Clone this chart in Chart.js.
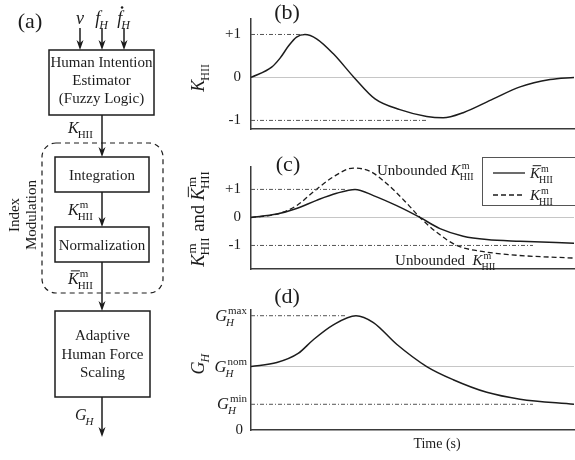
<!DOCTYPE html>
<html>
<head>
<meta charset="utf-8">
<script src="https://cdn.jsdelivr.net/npm/chart.js@4.4.1/dist/chart.umd.min.js"></script>
<style>
  html, body { margin: 0; padding: 0; background: #fff; }
  #wrap { position: relative; width: 575px; height: 460px; overflow: hidden; background: #fff; }
  canvas { position: absolute; }
</style>
</head>
<body>
<div id="wrap">
  <canvas id="diagram" width="180" height="460" style="left:0;top:0"></canvas>
  <canvas id="chartB" width="395" height="148" style="left:180px;top:0"></canvas>
  <canvas id="chartC" width="395" height="140" style="left:180px;top:148px"></canvas>
  <canvas id="chartD" width="395" height="176" style="left:180px;top:284px"></canvas>
</div>
<script>
// --- Data (time in arbitrary units, 0 = start, 100 = end) ---
const timeB = [0, 6.4, 9, 11.6, 14.1, 16.7, 20.3, 25.5, 31.9, 38.4, 46.1, 54.4, 59.5, 65.7, 75, 83.3, 92.6, 100];
const kHII  = [0, 0.24, 0.45, 0.73, 0.94, 1.0, 0.9, 0.55, 0, -0.5, -0.75, -0.91, -0.94, -0.82, -0.5, -0.22, -0.05, 0];

const timeNorm = [0, 8, 14.1, 20.3, 26.5, 32.2, 37.9, 45.1, 52.3, 58.5, 65.7, 73, 83.3, 100];
const kNorm    = [0, 0.12, 0.32, 0.61, 0.86, 1.0, 0.78, 0.42, 0, -0.4, -0.67, -0.79, -0.85, -0.92];

const timeUnb = [0, 8, 14.1, 19.3, 25.5, 31.7, 36.8, 42, 48.2, 52.3, 57.5, 63.7, 72, 82.3, 100];
const kUnb    = [0, 0.12, 0.42, 0.91, 1.45, 1.76, 1.65, 1.21, 0.51, 0, -0.53, -1.0, -1.22, -1.35, -1.45];

const timeG = [0, 8, 14.6, 19.3, 25.5, 32.5, 37.9, 45.1, 54.4, 62.6, 73, 83.3, 100];
const gH    = [0.555, 0.59, 0.67, 0.79, 0.92, 1.0, 0.94, 0.75, 0.555, 0.44, 0.33, 0.27, 0.225];

// tick values / labels
const kTicks = [-1, 0, 1];
const kTickLabels = ['-1', '0', '+1'];
const gTicks = [0, 0.225, 0.555, 1.0];        // 0, G_min, G_nom, G_max
const gTickSups = [null, 'min', 'nom', 'max'];

// end time of the dash-dot limit lines [upper, lower]
const limitEndB = [16.7, 54.8];
const limitEndC = [29.7, 87.3];
const limitEndD = [29.7, 87.3];

// --- Styling ---
const SERIF = '"Liberation Serif", "Times New Roman", "DejaVu Serif", serif';
const INK = '#1c1c1c';
const AXIS = '#3a3a3a';
const LIMIT = '#555';
const Y_AXIS_W = 71;

function fnt(size, italic) { return (italic ? 'italic ' : '') + size + 'px ' + SERIF; }

// a run is a list of plain strings and symbols {b, i, sup, sub, supI, subI, bar, dot}
function itemWidth(ctx, it, size) {
  if (typeof it === 'string') { ctx.font = fnt(size, false); return ctx.measureText(it).width; }
  ctx.font = fnt(size, it.i);
  const wb = ctx.measureText(it.b).width;
  const ss = Math.round(size * 0.68);
  let w = 0;
  if (it.sup) { ctx.font = fnt(ss, it.supI); w = Math.max(w, ctx.measureText(it.sup).width + 1); }
  if (it.sub) { ctx.font = fnt(ss, it.subI); w = Math.max(w, ctx.measureText(it.sub).width); }
  return wb + w;
}

function drawItem(ctx, it, x, y, size) {
  if (typeof it === 'string') {
    ctx.font = fnt(size, false);
    ctx.fillText(it, x, y);
    return ctx.measureText(it).width;
  }
  ctx.font = fnt(size, it.i);
  ctx.fillText(it.b, x, y);
  const wb = ctx.measureText(it.b).width;
  const ss = Math.round(size * 0.68);
  if (it.sup) { ctx.font = fnt(ss, it.supI); ctx.fillText(it.sup, x + wb + 1, y - size * 0.42); }
  if (it.sub) { ctx.font = fnt(ss, it.subI); ctx.fillText(it.sub, x + wb - (it.i ? 1 : 0), y + size * 0.3); }
  if (it.bar) {
    ctx.beginPath();
    ctx.lineWidth = 1;
    ctx.moveTo(x + size * 0.18, y - size * 0.82);
    ctx.lineTo(x + wb + size * 0.08, y - size * 0.82);
    ctx.stroke();
  }
  if (it.dot) {
    ctx.beginPath();
    ctx.arc(x + wb * 0.55 + size * 0.12, y - size * 0.92, size * 0.07, 0, Math.PI * 2);
    ctx.fill();
  }
  return itemWidth(ctx, it, size);
}

function drawRun(ctx, items, x, y, size, align) {
  ctx.textAlign = 'left';
  ctx.textBaseline = 'alphabetic';
  const total = items.reduce((s, it) => s + itemWidth(ctx, it, size), 0);
  let cx = align === 'center' ? x - total / 2 : align === 'right' ? x - total : x;
  items.forEach(it => { cx += drawItem(ctx, it, cx, y, size); });
}

function yTitle(ctx, items, x, y, size) {
  ctx.save();
  ctx.translate(x, y);
  ctx.rotate(-Math.PI / 2);
  drawRun(ctx, items, 0, 0, size, 'center');
  ctx.restore();
}

function panelLetter(ctx, text, x, y) {
  ctx.font = fnt(22, false);
  ctx.textAlign = 'center';
  ctx.textBaseline = 'alphabetic';
  ctx.fillText(text, x, y);
}

const K_HII  = { b: 'K', i: true, sub: 'HII' };
const K_M    = { b: 'K', i: true, sup: 'm', sub: 'HII' };
const K_MBAR = { b: 'K', i: true, sup: 'm', sub: 'HII', bar: true };
const G_H    = { b: 'G', i: true, sub: 'H', subI: true };

// --- Block diagram ---
function arrow(ctx, x, y1, y2) {
  ctx.beginPath();
  ctx.lineWidth = 1.5;
  ctx.moveTo(x, y1);
  ctx.lineTo(x, y2 - 5);
  ctx.stroke();
  ctx.beginPath();
  ctx.moveTo(x, y2);
  ctx.lineTo(x - 3.5, y2 - 10);
  ctx.lineTo(x, y2 - 7);
  ctx.lineTo(x + 3.5, y2 - 10);
  ctx.closePath();
  ctx.fill();
}

function block(ctx, x, y, w, h, lines, firstBase, step) {
  ctx.lineWidth = 1.5;
  ctx.strokeRect(x, y, w, h);
  ctx.font = fnt(15, false);
  ctx.textAlign = 'center';
  ctx.textBaseline = 'alphabetic';
  lines.forEach((t, i) => ctx.fillText(t, x + w / 2, firstBase + i * step));
}

function drawDiagram() {
  const ctx = document.getElementById('diagram').getContext('2d');
  ctx.strokeStyle = INK;
  ctx.fillStyle = INK;

  panelLetter(ctx, '(a)', 30, 28);

  // inputs
  drawRun(ctx, [{ b: 'v', i: true }], 80, 24, 18, 'center');
  drawRun(ctx, [{ b: 'f', i: true, sub: 'H', subI: true }], 102, 24, 18, 'center');
  drawRun(ctx, [{ b: 'f', i: true, sub: 'H', subI: true, dot: true }], 124, 24, 18, 'center');
  [80, 102, 124].forEach(x => arrow(ctx, x, 28, 50));

  block(ctx, 49, 50, 105, 65, ['Human Intention', 'Estimator', '(Fuzzy Logic)'], 67, 18);
  arrow(ctx, 102, 115, 157);
  drawRun(ctx, [K_HII], 68, 133, 16, 'left');

  // index modulation group
  ctx.save();
  ctx.setLineDash([5, 4]);
  ctx.lineWidth = 1.2;
  ctx.beginPath();
  ctx.roundRect(42, 143, 121, 150, 14);
  ctx.stroke();
  ctx.restore();

  ctx.save();
  ctx.font = fnt(15, false);
  ctx.textAlign = 'center';
  ctx.textBaseline = 'middle';
  ctx.translate(15, 215);
  ctx.rotate(-Math.PI / 2);
  ctx.fillText('Index', 0, 0);
  ctx.fillText('Modulation', 0, 17);
  ctx.restore();

  block(ctx, 55, 157, 94, 35, ['Integration'], 180, 0);
  arrow(ctx, 102, 192, 227);
  drawRun(ctx, [K_M], 68, 215, 16, 'left');

  block(ctx, 55, 227, 94, 35, ['Normalization'], 250, 0);
  arrow(ctx, 102, 262, 311);
  drawRun(ctx, [K_MBAR], 68, 284, 16, 'left');

  block(ctx, 55, 311, 95, 86, ['Adaptive', 'Human Force', 'Scaling'], 340, 18.5);
  arrow(ctx, 102, 397, 437);
  drawRun(ctx, [G_H], 75, 420, 16, 'left');
}

// --- Charts ---
function curve(xs, ys, extra) {
  return Object.assign({
    data: xs.map((x, i) => ({ x, y: ys[i] })),
    borderColor: INK,
    borderWidth: 1.5,
    pointRadius: 0,
    cubicInterpolationMode: 'monotone',
    fill: false
  }, extra || {});
}

function limitLine(xEnd, y) {
  return {
    data: [{ x: 0, y }, { x: xEnd, y }],
    borderColor: LIMIT,
    borderWidth: 1,
    borderDash: [4, 2, 1, 2],
    pointRadius: 0
  };
}

function makePanel(id, cfg) {
  return new Chart(document.getElementById(id), {
    type: 'line',
    data: { datasets: cfg.datasets },
    options: {
      responsive: false,
      animation: false,
      events: [],
      layout: { padding: { top: cfg.padTop, right: 1, left: 0, bottom: 0 } },
      plugins: { legend: { display: false }, tooltip: { enabled: false } },
      scales: {
        x: {
          type: 'linear', min: 0, max: 100,
          afterFit: s => { s.height = cfg.xHeight; },
          ticks: { display: false },
          grid: { display: false, drawTicks: false },
          border: { display: true, color: AXIS, width: 1.5 }
        },
        y: {
          min: cfg.yMin, max: cfg.yMax,
          afterBuildTicks: s => { s.ticks = cfg.yTicks.map(v => ({ value: v })); },
          afterFit: s => { s.width = Y_AXIS_W; },
          grid: {
            drawTicks: false,
            lineWidth: 1,
            color: c => (c.tick && c.tick.value === cfg.baseLine ? '#c6c6c6' : 'rgba(0,0,0,0)')
          },
          border: { display: true, color: AXIS, width: 1.5 },
          ticks: {
            display: !!cfg.tickLabels,
            padding: 10,
            color: INK,
            font: { family: SERIF, size: 15 },
            callback: (v, i) => (cfg.tickLabels ? cfg.tickLabels[i] : '')
          }
        }
      }
    },
    plugins: [{
      id: 'decor',
      afterDraw(chart) {
        const ctx = chart.ctx;
        ctx.save();
        ctx.fillStyle = INK;
        ctx.strokeStyle = INK;
        cfg.decor(chart, ctx);
        ctx.restore();
      }
    }]
  });
}

drawDiagram();

// (b) human intention index
makePanel('chartB', {
  padTop: 15, xHeight: 12,
  yMin: -1.2, yMax: 1.36, yTicks: kTicks, tickLabels: kTickLabels, baseLine: 0,
  datasets: [
    limitLine(limitEndB[0], 1),
    limitLine(limitEndB[1], -1),
    curve(timeB, kHII)
  ],
  decor(chart, ctx) {
    const { left } = chart.chartArea;
    panelLetter(ctx, '(b)', left + 36, 19);
    yTitle(ctx, [K_HII], 23.5, chart.scales.y.getPixelForValue(0), 18);
  }
});

// (c) modulated index, normalized vs unbounded
makePanel('chartC', {
  padTop: 12, xHeight: 7,
  yMin: -1.84, yMax: 1.8, yTicks: kTicks, tickLabels: kTickLabels, baseLine: 0,
  datasets: [
    limitLine(limitEndC[0], 1),
    limitLine(limitEndC[1], -1),
    curve(timeUnb, kUnb, { borderDash: [5, 3], borderWidth: 1.3 }),
    curve(timeNorm, kNorm)
  ],
  decor(chart, ctx) {
    const { left } = chart.chartArea;
    const xs = chart.scales.x, ys = chart.scales.y;
    panelLetter(ctx, '(c)', left + 37, 23);
    yTitle(ctx, [K_M, ' and ', K_MBAR], 23.5, ys.getPixelForValue(0) + 1, 18.5);

    drawRun(ctx, ['Unbounded ', K_M], xs.getPixelForValue(39), ys.getPixelForValue(1.5), 15, 'left');
    drawRun(ctx, ['Unbounded  ', K_M], xs.getPixelForValue(44.6), ys.getPixelForValue(-1.7), 15, 'left');

    // legend
    ctx.lineWidth = 1;
    ctx.strokeStyle = '#555';
    ctx.strokeRect(302.5, 9.5, 100, 48);
    ctx.strokeStyle = INK;
    [[25, [], K_MBAR], [47, [5, 3], K_M]].forEach(([ly, dash, sym]) => {
      ctx.save();
      ctx.setLineDash(dash);
      ctx.lineWidth = 1.3;
      ctx.beginPath();
      ctx.moveTo(313, ly);
      ctx.lineTo(345, ly);
      ctx.stroke();
      ctx.restore();
      drawRun(ctx, [sym], 350, ly + 5, 15, 'left');
    });
  }
});

// (d) adaptive human force scaling gain
makePanel('chartD', {
  padTop: 26, xHeight: 30,
  yMin: 0, yMax: 1.05, yTicks: gTicks, tickLabels: null, baseLine: gTicks[2],
  datasets: [
    limitLine(limitEndD[0], gTicks[3]),
    limitLine(limitEndD[1], gTicks[1]),
    curve(timeG, gH)
  ],
  decor(chart, ctx) {
    const xs = chart.scales.x, ys = chart.scales.y;
    panelLetter(ctx, '(d)', chart.chartArea.left + 36, 19);
    yTitle(ctx, [G_H], 23.5, ys.getPixelForValue(gTicks[2]) - 3, 18);

    gTicks.forEach((v, i) => {
      const py = ys.getPixelForValue(v);
      if (gTickSups[i]) {
        drawRun(ctx, [Object.assign({ sup: gTickSups[i] }, G_H)], 67, py + 5, 16.5, 'right');
      } else {
        ctx.font = fnt(15, false);
        ctx.textAlign = 'right';
        ctx.textBaseline = 'middle';
        ctx.fillText('0', 63, py);
      }
    });

    ctx.font = fnt(14, false);
    ctx.textAlign = 'center';
    ctx.textBaseline = 'alphabetic';
    ctx.fillText('Time (s)', xs.getPixelForValue(57.6), 164);
  }
});
</script>
</body>
</html>
